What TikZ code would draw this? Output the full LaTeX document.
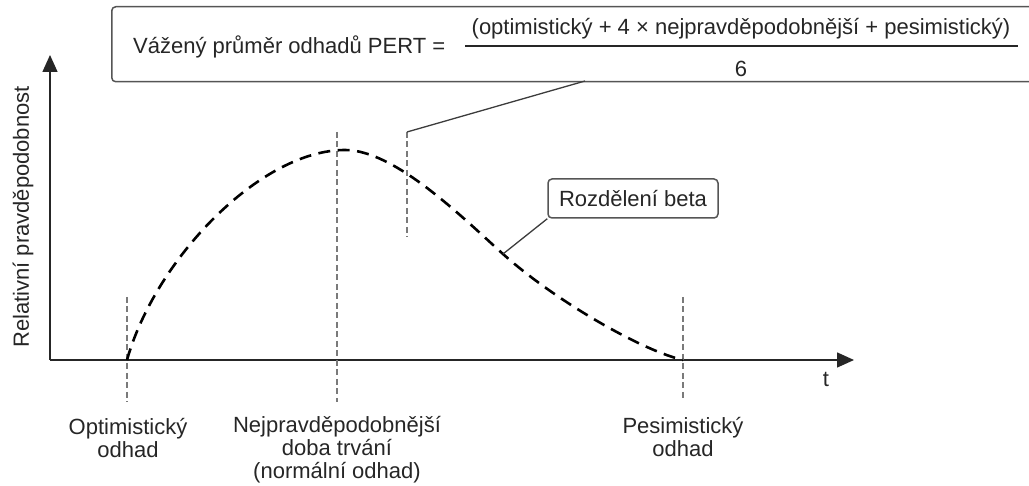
\documentclass[tikz,border=0pt]{standalone}
\usepackage{fontspec}
\setmainfont{Liberation Sans}
\usetikzlibrary{arrows.meta}
\definecolor{ink}{HTML}{262626}
\definecolor{frame}{HTML}{555555}
\definecolor{guide}{HTML}{7A7A7A}
\tikzset{
  axisline/.style={draw=ink, line width=1.5pt, -{Triangle[length=17pt,width=15pt]}},
  guideline/.style={draw=guide, line width=1.2pt, dash pattern=on 6pt off 3.5pt},
  betacurve/.style={draw=black, line width=2.6pt, dash pattern=on 12pt off 7.5pt},
  calloutbox/.style={draw=frame, line width=1.5pt, rounded corners=4pt, fill=white, inner sep=0pt},
  calloutline/.style={draw=ink!90, line width=1.3pt},
  lbl/.style={text=ink, inner sep=0pt, align=center, font=\fontsize{22}{23}\selectfont},
}
\begin{document}
\begin{tikzpicture}[x=1pt, y=-1pt]
\useasboundingbox (0,0) rectangle (1029,486);
\clip (0,0) rectangle (1029,486);

% axes
\coordinate (origin) at (50,360);
\coordinate (ytip) at (50,55);
\coordinate (xtip) at (854,360);
\draw[axisline] (origin) -- (ytip);
\draw[axisline] (origin) -- (xtip);
\node[lbl, rotate=90] (ylabel) at (23,217) {Relativní pravděpodobnost};
\node[lbl] (tlabel) at (826,379) {t};

% guide lines at the three estimates and the PERT mean
\coordinate (optTop) at (127,297);  \coordinate (optBot) at (127,402);
\coordinate (mlTop)  at (337,132);  \coordinate (mlBot)  at (337,402);
\coordinate (pertTop) at (407,132); \coordinate (pertBot) at (407,237);
\coordinate (pesTop) at (683,297);  \coordinate (pesBot) at (683,401);
\draw[guideline] (optTop) -- (optBot);
\draw[guideline] (mlTop) -- (mlBot);
\draw[guideline] (pertTop) -- (pertBot);
\draw[guideline] (pesTop) -- (pesBot);

% beta distribution curve
\coordinate (curveStart) at (127,360);
\coordinate (curvePeak) at (345,150);
\coordinate (betaPoint) at (503,254);
\coordinate (curveEnd) at (683,360);
\draw[betacurve] (curveStart)
  .. controls (155,260) and (260,150) .. (curvePeak)
  .. controls (395,150) and (463,218) .. (betaPoint)
  .. controls (553,299) and (640,350) .. (curveEnd);

% estimate labels under the time axis
\node[lbl] (optLabel) at (128,438) {Optimistický\\odhad};
\node[lbl] (mlLabel) at (337,450) {Nejpravděpodobnější\\doba trvání\\(normální odhad)};
\node[lbl] (pesLabel) at (683,437) {Pesimistický\\odhad};

% PERT formula box
\node[calloutbox, anchor=north west, minimum width=935pt, minimum height=75pt] (pertBox) at (111,6) {};
\node[lbl, anchor=west] (pertLeft) at (133,47) {Vážený průměr odhadů PERT =};
\node[lbl] (pertNum) at (741,29) {(optimistický + 4 × nejpravděpodobnější + pesimistický)};
\node[lbl] (pertDen) at (741,69) {6};
\coordinate (barLeft) at (465,46);
\coordinate (barRight) at (1018,46);
\draw[draw=ink, line width=1.5pt] (barLeft) -- (barRight);
\coordinate (pertJoin) at (585,81);
\draw[calloutline] (pertTop) -- (pertJoin);

% beta label
\node[calloutbox, minimum width=170pt, minimum height=39pt, lbl] (betaBox) at (633,198.5) {Rozdělení beta};
\draw[calloutline] (betaBox.south west) -- (betaPoint);
\end{tikzpicture}
\end{document}
